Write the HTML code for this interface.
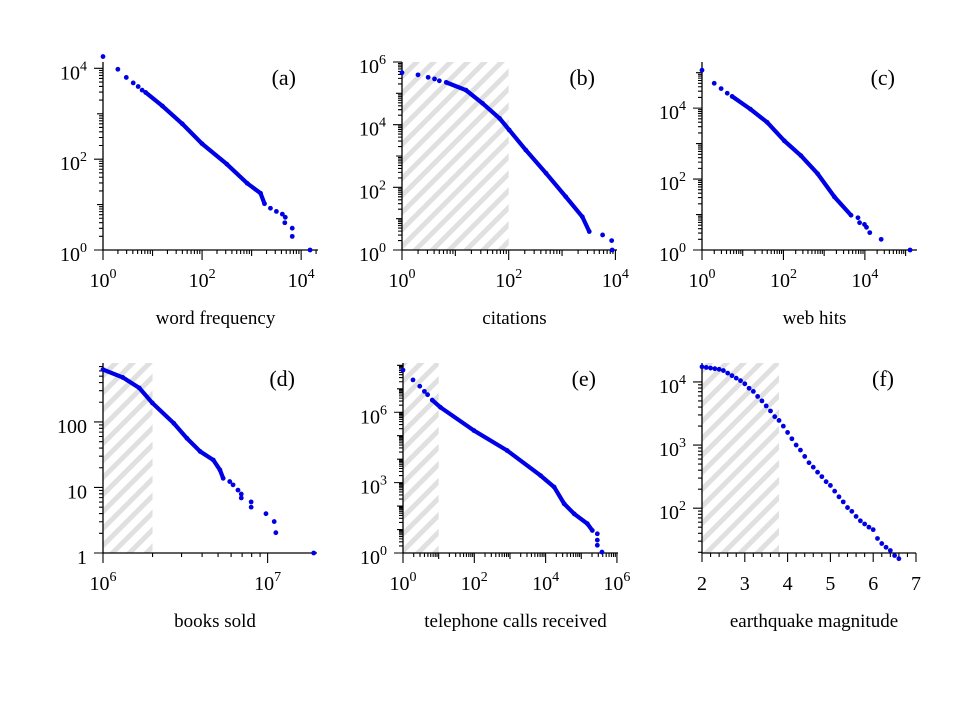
<!DOCTYPE html>
<html><head><meta charset="utf-8"><style>
body{margin:0;background:#fff}
svg{display:block;font-family:"Liberation Serif",serif}
</style></head><body>
<svg id="fig" width="960" height="720" viewBox="0 0 960 720" xmlns="http://www.w3.org/2000/svg">
<defs>
<pattern id="hatch" patternUnits="userSpaceOnUse" width="12" height="12" patternTransform="rotate(-45)">
<rect width="12" height="12" fill="#fff"/><rect width="12" height="5" fill="#e0e0e0"/>
</pattern>
</defs>
<rect width="960" height="720" fill="#fff"/>
</svg>
<script>
// ---- data (log10 values unless noted) ----
const aLogX=[0,0.30,0.47,0.61,0.71,0.79,0.86,1.2,1.6,2.0,2.5,2.91,3.18,3.26,3.38,3.5,3.62,3.68,3.67,3.82,3.82,4.18];
const aLogY=[4.26,3.98,3.80,3.68,3.60,3.52,3.47,3.17,2.78,2.34,1.89,1.47,1.25,1.02,0.92,0.85,0.79,0.72,0.60,0.48,0.30,0];
const aDense=[6,13];
const bLogX=[0,0.30,0.49,0.61,0.70,0.83,1.2,1.51,1.83,2.01,2.32,2.7,3.07,3.38,3.51,3.76,3.93,3.94];
const bLogY=[5.66,5.59,5.51,5.46,5.40,5.35,5.1,4.68,4.2,3.83,3.19,2.45,1.7,1.06,0.59,0.48,0.30,0];
const bDense=[5,14];
const cLogX=[0,0.30,0.47,0.62,0.74,1.19,1.6,2.02,2.43,2.84,3.25,3.66,3.83,3.87,3.99,4.04,4.12,4.4,5.11];
const cLogY=[5.07,4.70,4.55,4.42,4.33,3.97,3.6,3.08,2.66,2.15,1.5,0.98,0.91,0.77,0.72,0.64,0.49,0.30,0];
const cDense=[4,11];
const dLogX=[6,6.12,6.22,6.30,6.43,6.51,6.59,6.67,6.71,6.73,6.77,6.79,6.82,6.84,6.84,6.9,6.9,6.99,7.04,7.05,7.28];
const dLogY=[2.8,2.68,2.52,2.29,1.98,1.75,1.55,1.42,1.27,1.14,1.09,1.04,0.96,0.90,0.84,0.78,0.70,0.60,0.48,0.31,0];
const dDense=[0,9];
const eLogX=[0,0.28,0.47,0.60,0.69,0.82,1.05,1.99,2.92,3.86,4.24,4.52,4.8,5.17,5.31,5.45,5.45,5.45,5.58];
const eLogY=[7.8,7.38,7.11,6.89,6.75,6.52,6.21,5.22,4.37,3.3,2.81,2.1,1.67,1.25,0.96,0.82,0.55,0.33,0.04];
const eDense=[5,14];
const fMag=[2.0,2.1,2.2,2.3,2.4,2.5,2.6,2.7,2.8,2.9,3.0,3.1,3.2,3.3,3.4,3.5,3.6,3.7,3.8,3.9,4.0,4.1,4.2,4.3,4.4,4.5,4.6,4.7,4.8,4.9,5.0,5.1,5.2,5.3,5.4,5.5,5.6,5.7,5.8,5.9,6.0,6.1,6.2,6.3,6.4,6.5,6.6];
const fLogY=[4.24,4.23,4.22,4.21,4.2,4.18,4.14,4.1,4.06,4.02,3.97,3.9,3.85,3.77,3.7,3.62,3.54,3.45,3.39,3.3,3.2,3.1,3.0,2.92,2.82,2.72,2.65,2.57,2.5,2.42,2.36,2.27,2.18,2.1,2.01,1.95,1.87,1.8,1.75,1.7,1.66,1.52,1.44,1.38,1.33,1.25,1.2];
const fDense=null;
const xTitles=["word frequency","citations","web hits","books sold","telephone calls received","earthquake magnitude"];
const panelTags=["(a)","(b)","(c)","(d)","(e)","(f)"];

const NS="http://www.w3.org/2000/svg";
const svg=document.getElementById('fig');
function mk(tag,attrs,parent){const e=document.createElementNS(NS,tag);for(const k in attrs)e.setAttribute(k,attrs[k]);(parent||svg).appendChild(e);return e;}

const panels=[
 {px:[103,318],py:[250,62],xr:[0,4.34],yr:[0,4.14],X:aLogX,Y:aLogY,dense:aDense,xlog:true,xMaj:[0,2,4],yMaj:[0,2,4],shade:null},
 {px:[402,617],py:[250,62],xr:[0,4.03],yr:[0,6],X:bLogX,Y:bLogY,dense:bDense,xlog:true,xMaj:[0,2,4],yMaj:[0,2,4,6],shade:2},
 {px:[702,917],py:[250,62],xr:[0,5.28],yr:[0,5.3],X:cLogX,Y:cLogY,dense:cDense,xlog:true,xMaj:[0,2,4],yMaj:[0,2,4],shade:null},
 {px:[103,317],py:[553,363],xr:[6,7.3],yr:[0,2.9],X:dLogX,Y:dLogY,dense:dDense,xlog:true,xMaj:[6,7],yMaj:[0,1,2],yPlain:true,shade:Math.log10(2e6)},
 {px:[403,618],py:[553,363],xr:[0,6.03],yr:[0,8.1],X:eLogX,Y:eLogY,dense:eDense,xlog:true,xMaj:[0,2,4,6],yMaj:[0,3,6],shade:1},
 {px:[702,916],py:[553,363],xr:[2,7],yr:[1.29,4.3],X:fMag,Y:fLogY,dense:fDense,xlog:false,xMaj:[2,3,4,5,6,7],yMaj:[2,3,4],shade:3.8}
];
const names=['a','b','c','d','e','f'];

panels.forEach((p,i)=>{
 const g=mk('g',{});
 
 
 const sx=v=>p.px[0]+(v-p.xr[0])/(p.xr[1]-p.xr[0])*(p.px[1]-p.px[0]);
 const sy=v=>p.py[0]+(v-p.yr[0])/(p.yr[1]-p.yr[0])*(p.py[1]-p.py[0]);
 if(p.shade!==null){
  const r=mk('rect',{x:p.px[0],y:p.py[1],width:sx(p.shade)-p.px[0],height:p.py[0]-p.py[1],fill:'url(#hatch)'},g);
  
  
 }
 const ax=mk('path',{d:`M${p.px[0]},${p.py[1]}V${p.py[0]}H${p.px[1]}`,stroke:'#000','stroke-width':1.3,fill:'none'},g);
 
 
 let td='';
 if(p.xlog){
  for(let d=Math.floor(p.xr[0]);d<=p.xr[1];d++){
   for(let m=1;m<10;m++){const v=d+Math.log10(m);if(v<p.xr[0]-1e-9||v>p.xr[1])continue;
    const x=sx(v);const len=(m===1)?(p.xMaj.includes(d)?10:6):4;td+=`M${x},${p.py[0]}v${len}`;}
  }
 } else {
  for(let v=p.xr[0];v<=p.xr[1]+1e-9;v+=0.2){const x=sx(v);const maj=Math.abs(v-Math.round(v))<1e-6;td+=`M${x},${p.py[0]}v${maj?9:4}`;}
 }
 for(let d=Math.floor(p.yr[0]);d<=p.yr[1];d++){
  for(let m=1;m<10;m++){const v=d+Math.log10(m);if(v<p.yr[0]-1e-9||v>p.yr[1])continue;
   const y=sy(v);const len=(m===1)?(p.yMaj.includes(d)?9:6):4;td+=`M${p.px[0]},${y}h${-len}`;}
 }
 const tk=mk('path',{d:td,stroke:'#000','stroke-width':1.1,fill:'none'},g);
 
 
 p.xMaj.forEach(v=>{
  const t=mk('text',{x:sx(v),y:p.py[0]+37,'font-size':20,'text-anchor':'middle'},g);
  
  
  if(p.xlog){t.innerHTML=`10<tspan dy="-9" font-size="14">${v}</tspan>`;}else t.textContent=v;
 });
 p.yMaj.forEach(v=>{
  const t=mk('text',{x:p.px[0]-16,y:sy(v)+11,'font-size':20,'text-anchor':'end'},g);
  
  
  if(p.yPlain){t.textContent=String(Math.pow(10,v));}else t.innerHTML=`10<tspan dy="-9" font-size="14">${v}</tspan>`;
 });
 const tt=mk('text',{x:(p.px[0]+p.px[1])/2+5,y:p.py[0]+74,'font-size':19,'text-anchor':'middle'},g);
 
 
 tt.textContent=xTitles[i];
 const pt=mk('text',{x:p.px[1]-22,y:p.py[1]+23,'font-size':22,'text-anchor':'end'},g);
 
 
 pt.textContent=panelTags[i];
 if(p.dense){
  let d='';for(let k=p.dense[0];k<=p.dense[1];k++)d+=(k===p.dense[0]?'M':'L')+sx(p.X[k])+','+sy(p.Y[k]);
  const ln=mk('path',{d:d,stroke:'#0000e6','stroke-width':4.2,fill:'none','stroke-linecap':'round','stroke-linejoin':'round'},g);
  
  
 }
 p.X.forEach((xv,k)=>{
  const c=mk('circle',{cx:sx(xv),cy:sy(p.Y[k]),r:2.4,fill:'#0000e6'},g);
  
  
 });
});
</script>
</body></html>
